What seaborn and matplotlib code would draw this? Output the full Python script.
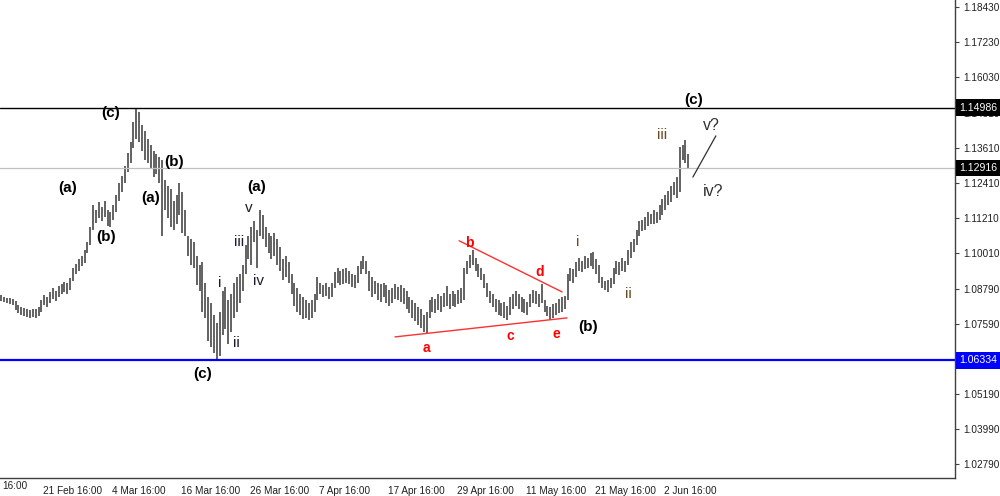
import matplotlib
matplotlib.use("Agg")
import matplotlib.pyplot as plt
import matplotlib.transforms as mtransforms
import numpy as np
import pandas as pd
import seaborn as sns

# ---- 8H bars, EURUSD (high / low per bar) ----
highs = [
    1.0856, 1.0852, 1.0848, 1.0846, 1.0844, 1.0836, 1.0822, 1.0818, 1.0812, 1.0808,
    1.0806, 1.0810, 1.0808, 1.0815, 1.0840, 1.0858, 1.0850, 1.0866, 1.0880, 1.0872,
    1.0888, 1.0896, 1.0902, 1.0898, 1.0915, 1.0950, 1.0965, 1.0980, 1.0990, 1.1010,
    1.1040, 1.1090, 1.1165, 1.1150, 1.1175, 1.1160, 1.1180, 1.1150, 1.1140, 1.1165,
    1.1200, 1.1240, 1.1265, 1.1300, 1.1345, 1.1380, 1.1450, 1.1496, 1.1485, 1.1440,
    1.1420, 1.1390, 1.1370, 1.1350, 1.1340, 1.1330, 1.1320, 1.1250, 1.1230, 1.1220,
    1.1180, 1.1200, 1.1240, 1.1210, 1.1150, 1.1060, 1.1050, 1.1040, 1.0990, 1.0960,
    1.0970, 1.0900, 1.0850, 1.0830, 1.0790, 1.0760, 1.0800, 1.0870, 1.0885, 1.0840,
    1.0860, 1.0900, 1.0920, 1.0930, 1.0960, 1.1030, 1.1060, 1.1090, 1.1110, 1.1080,
    1.1147, 1.1130, 1.1090, 1.1070, 1.1060, 1.1070, 1.1050, 1.1020, 1.0980, 1.0990,
    1.0970, 1.0930, 1.0900, 1.0880, 1.0860, 1.0850, 1.0840, 1.0830, 1.0840, 1.0860,
    1.0920, 1.0900, 1.0890, 1.0900, 1.0885, 1.0900, 1.0935, 1.0950, 1.0940, 1.0945,
    1.0950, 1.0940, 1.0930, 1.0925, 1.0955, 1.0975, 1.0990, 1.0975, 1.0940, 1.0920,
    1.0905, 1.0900, 1.0895, 1.0900, 1.0890, 1.0875, 1.0880, 1.0895, 1.0885, 1.0890,
    1.0880, 1.0870, 1.0850, 1.0840, 1.0830, 1.0815, 1.0810, 1.0790, 1.0800, 1.0840,
    1.0850, 1.0845, 1.0860, 1.0855, 1.0865, 1.0888, 1.0860, 1.0870, 1.0860, 1.0875,
    1.0880, 1.0950, 1.0975, 1.0995, 1.1012, 1.0985, 1.0965, 1.0950, 1.0930, 1.0900,
    1.0870, 1.0860, 1.0845, 1.0840, 1.0830, 1.0835, 1.0820, 1.0850, 1.0860, 1.0870,
    1.0860, 1.0850, 1.0845, 1.0835, 1.0860, 1.0875, 1.0870, 1.0860, 1.0895, 1.0840,
    1.0820, 1.0815, 1.0825, 1.0830, 1.0845, 1.0850, 1.0855, 1.0930, 1.0950, 1.0945,
    1.0970, 1.0985, 1.0975, 1.0990, 1.0985, 1.1000, 1.1005, 1.0980, 1.0960, 1.0920,
    1.0905, 1.0910, 1.0915, 1.0950, 1.0975, 1.0970, 1.0985, 1.0975, 1.1010, 1.1040,
    1.1050, 1.1080, 1.1110, 1.1115, 1.1125, 1.1140, 1.1135, 1.1150, 1.1140, 1.1165,
    1.1185, 1.1200, 1.1215, 1.1230, 1.1245, 1.1260, 1.1365, 1.1370, 1.1388, 1.1340,
]
lows = [
    1.0838, 1.0834, 1.0830, 1.0826, 1.0824, 1.0806, 1.0796, 1.0790, 1.0786, 1.0782,
    1.0780, 1.0782, 1.0779, 1.0786, 1.0800, 1.0822, 1.0815, 1.0830, 1.0845, 1.0838,
    1.0852, 1.0860, 1.0866, 1.0862, 1.0875, 1.0905, 1.0930, 1.0940, 1.0955, 1.0968,
    1.1000, 1.1030, 1.1080, 1.1105, 1.1120, 1.1110, 1.1125, 1.1095, 1.1090, 1.1115,
    1.1140, 1.1180, 1.1210, 1.1240, 1.1280, 1.1310, 1.1360, 1.1390, 1.1380, 1.1350,
    1.1320, 1.1310, 1.1290, 1.1260, 1.1270, 1.1240, 1.1060, 1.1150, 1.1120, 1.1090,
    1.1080, 1.1100, 1.1130, 1.1070, 1.1060, 1.0990, 1.0960, 1.0950, 1.0890, 1.0870,
    1.0800, 1.0780, 1.0700, 1.0680, 1.0660, 1.0636, 1.0650, 1.0720, 1.0740, 1.0690,
    1.0730, 1.0780, 1.0800, 1.0830, 1.0870, 1.0930, 1.0980, 1.0960, 1.1040, 1.0950,
    1.1060, 1.1050, 1.1020, 1.1000, 1.0980, 1.0990, 1.0960, 1.0940, 1.0910, 1.0920,
    1.0900, 1.0860, 1.0820, 1.0800, 1.0790, 1.0775, 1.0780, 1.0772, 1.0780, 1.0800,
    1.0840, 1.0860, 1.0850, 1.0855, 1.0845, 1.0850, 1.0880, 1.0900, 1.0890, 1.0895,
    1.0900, 1.0895, 1.0885, 1.0880, 1.0900, 1.0930, 1.0945, 1.0930, 1.0870, 1.0850,
    1.0860, 1.0840, 1.0835, 1.0850, 1.0830, 1.0820, 1.0830, 1.0845, 1.0840, 1.0835,
    1.0825, 1.0810, 1.0795, 1.0780, 1.0770, 1.0755, 1.0745, 1.0732, 1.0727, 1.0780,
    1.0800, 1.0795, 1.0805, 1.0800, 1.0815, 1.0820, 1.0810, 1.0820, 1.0815, 1.0825,
    1.0830, 1.0840, 1.0930, 1.0950, 1.0960, 1.0940, 1.0920, 1.0910, 1.0880, 1.0850,
    1.0830, 1.0815, 1.0800, 1.0790, 1.0785, 1.0780, 1.0773, 1.0790, 1.0810, 1.0820,
    1.0810, 1.0800, 1.0795, 1.0790, 1.0815, 1.0830, 1.0825, 1.0815, 1.0830, 1.0800,
    1.0785, 1.0773, 1.0780, 1.0790, 1.0795, 1.0800, 1.0810, 1.0840, 1.0905, 1.0900,
    1.0920, 1.0940, 1.0935, 1.0945, 1.0950, 1.0955, 1.0945, 1.0930, 1.0900, 1.0880,
    1.0875, 1.0868, 1.0880, 1.0895, 1.0930, 1.0925, 1.0940, 1.0935, 1.0960, 1.0985,
    1.1005, 1.1030, 1.1060, 1.1075, 1.1080, 1.1095, 1.1100, 1.1100, 1.1105, 1.1115,
    1.1130, 1.1150, 1.1165, 1.1175, 1.1200, 1.1190, 1.1210, 1.1320, 1.1310, 1.1290,
]

time_labels = ["21 Feb 16:00", "4 Mar 16:00", "16 Mar 16:00", "26 Mar 16:00", "7 Apr 16:00",
               "17 Apr 16:00", "29 Apr 16:00", "11 May 16:00", "21 May 16:00", "2 Jun 16:00"]
time_ticks = [14, 38, 62, 86, 110, 134, 158, 182, 206, 230]

price_ticks = [1.02790, 1.03990, 1.05190, 1.06390, 1.07590, 1.08790, 1.10010,
               1.11210, 1.12410, 1.13610, 1.14810, 1.16030, 1.17230, 1.18430]

high_level = 1.14986
last_price = 1.12916
support_level = 1.06334

# wave counts: (text, bar, price)
black_waves = [("(c)", 38, 1.1480), ("(a)", 23, 1.1224), ("(b)", 36.5, 1.1056),
               ("(a)", 52, 1.1190), ("(b)", 60, 1.1313), ("(a)", 89, 1.1228),
               ("(c)", 70, 1.0587), ("(b)", 204, 1.0748), ("(c)", 241, 1.1525)]
minor_waves = [("i", 76, 1.0899), ("ii", 81.7, 1.0693), ("iii", 82.6, 1.1039),
               ("iv", 89.5, 1.0905), ("v", 86, 1.1155)]
brown_waves = [("i", 200.6, 1.1039), ("ii", 218, 1.0862), ("iii", 230, 1.1405)]
open_waves = [("v?", 247, 1.1439), ("iv?", 247.5, 1.1210)]
triangle_waves = [("a", 148, 1.0676), ("b", 162.7, 1.1036), ("c", 177, 1.0717),
                  ("d", 187.4, 1.0936), ("e", 193, 1.0724)]

tri_lower_x = [137, 196.8]
tri_lower_y = [1.0714, 1.0779]
tri_upper_x = [159.3, 195.1]
tri_upper_y = [1.1043, 1.0868]
proj_x = [240.6, 248.6]
proj_y = [1.1261, 1.1402]

# -------------------------------------------------------------------
sns.set_theme(style="white")
plt.rcParams["font.family"] = ["Liberation Sans", "DejaVu Sans"]

fig = plt.figure(figsize=(10, 4.96), dpi=100)
ax = fig.add_axes([0, 18 / 496, 955 / 1000, 478 / 496])

bars = pd.DataFrame({"bar": np.arange(len(highs)), "high": highs, "low": lows})
ax.vlines(bars["bar"], bars["low"], bars["high"], color="#5c5c5c", lw=1.35)

ax.axhline(high_level, color="black", lw=1.0)
ax.axhline(last_price, color="#c0c0c0", lw=0.9)
ax.axhline(support_level, color="#0000ff", lw=1.6)

sns.lineplot(x=tri_lower_x, y=tri_lower_y, color="#ff3030", lw=1.0, ax=ax)
sns.lineplot(x=tri_upper_x, y=tri_upper_y, color="#ff3030", lw=1.0, ax=ax)
sns.lineplot(x=proj_x, y=proj_y, color="#303030", lw=0.9, ax=ax)

for t, x, y in black_waves:
    ax.text(x, y, t, ha="center", va="center", fontsize=11, fontweight="bold", color="black")
for t, x, y in minor_waves:
    ax.text(x, y, t, ha="center", va="center", fontsize=11, color="#1c1c2c")
for t, x, y in brown_waves:
    ax.text(x, y, t, ha="center", va="center", fontsize=11, color="#6b4b23")
for t, x, y in open_waves:
    ax.text(x, y, t, ha="center", va="center", fontsize=11.5, color="#303030")
for t, x, y in triangle_waves:
    ax.text(x, y, t, ha="center", va="center", fontsize=10, fontweight="bold", color="#ff0000")

ax.set_xlim(-0.4, 955 / 2.875 - 0.4)
ax.set_ylim(1.02311, 1.18670)

# axes look like a trading terminal
for s in ["left", "top"]:
    ax.spines[s].set_visible(False)
for s in ["right", "bottom"]:
    ax.spines[s].set_color("#404040")
    ax.spines[s].set_linewidth(1.0)

ax.yaxis.tick_right()
ax.set_yticks(price_ticks)
ax.set_yticklabels([f"{p:.5f}" for p in price_ticks])
ax.set_xticks(time_ticks)
ax.set_xticklabels(time_labels, ha="left")
ax.tick_params(axis="y", direction="out", length=3, width=0.8, color="#404040",
               labelsize=7.2, pad=3, labelcolor="#202020")
ax.tick_params(axis="x", direction="out", length=4, width=0.8, color="#404040",
               labelsize=7.2, pad=2, labelcolor="#202020")
shift = mtransforms.ScaledTranslation(2 / 100, 0, fig.dpi_scale_trans)
for lbl in ax.get_xticklabels():
    lbl.set_transform(lbl.get_transform() + shift)
fig.text(0.002, (496 - 486) / 496, "16:00", fontsize=7.2, color="#202020", va="center")

# price tags on the right scale, wide enough to hide the tick label below
tag_tr = mtransforms.blended_transform_factory(ax.transAxes, ax.transData)
for price, bg in [(high_level, "black"), (last_price, "black"), (support_level, "#0000ff")]:
    ax.text(1.004, price, f"{price:.5f}", transform=tag_tr, ha="left", va="center",
            fontsize=7.6, color="white", clip_on=False, zorder=10,
            bbox=dict(boxstyle="square,pad=0.3", fc=bg, ec="none"))

fig.savefig("out.png", dpi=100)
